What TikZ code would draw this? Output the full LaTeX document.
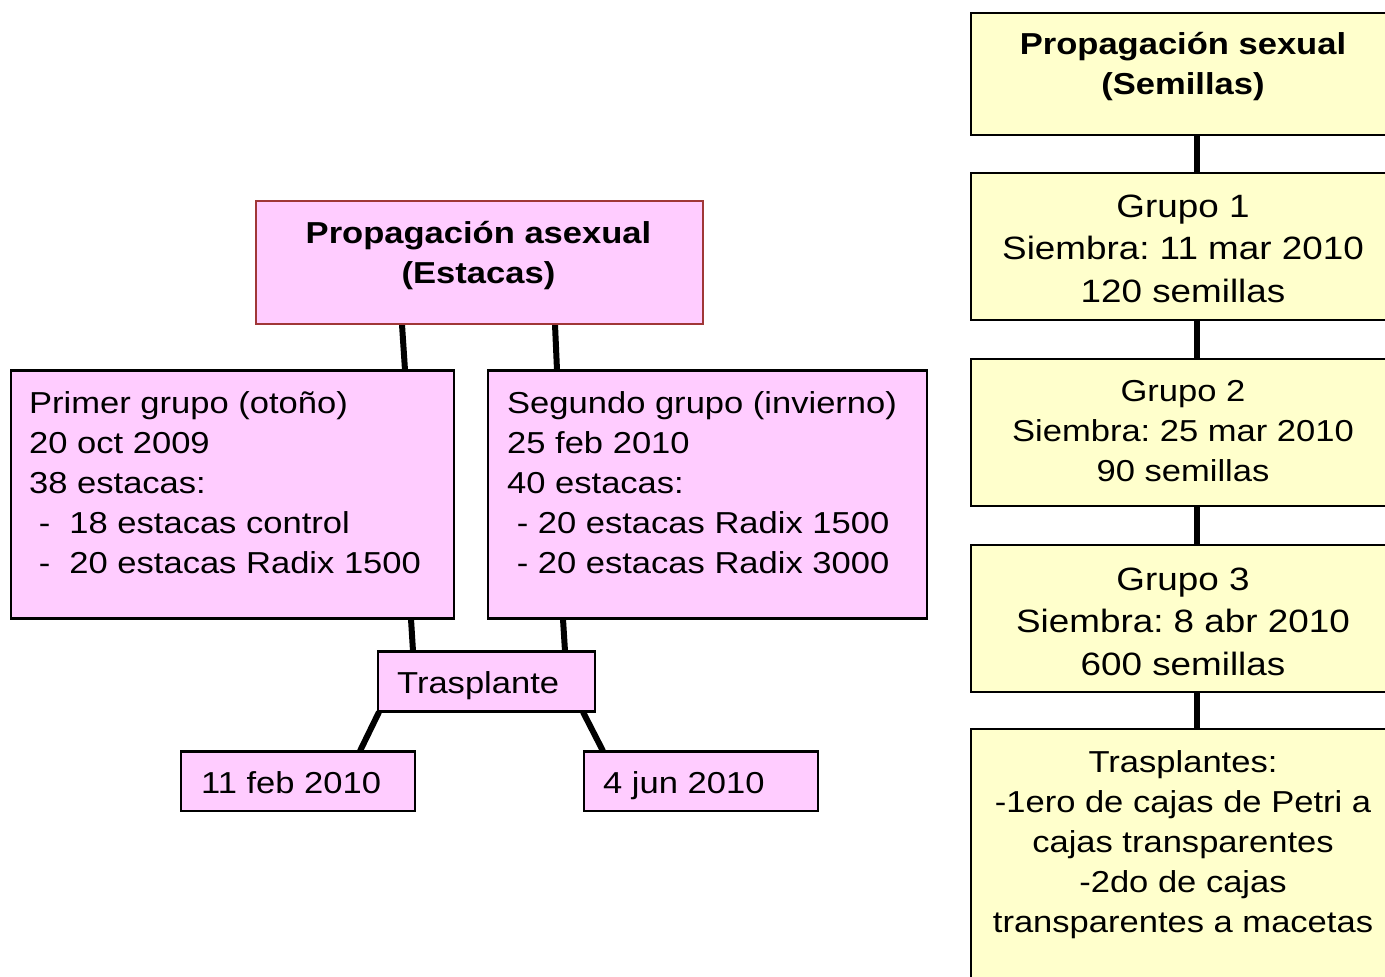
\documentclass[tikz,border=0pt]{standalone}
\usepackage{fontspec}
\setmainfont[FakeStretch=1.14]{Liberation Sans}
\definecolor{pinkfill}{HTML}{FFCCFF}
\definecolor{yellowfill}{HTML}{FFFFCC}
\definecolor{redborder}{RGB}{160,55,55}
\newcommand{\txtA}{\fontsize{30.3}{40}\selectfont}
\newcommand{\txtB}{\fontsize{32.3}{42.5}\selectfont}
\tikzset{
  pinkbox/.style={draw=black, line width=2pt, fill=pinkfill, rectangle, inner sep=0pt, anchor=north west},
  yellowbox/.style={draw=black, line width=2pt, fill=yellowfill, rectangle, inner sep=0pt, anchor=north west},
  conn/.style={draw=black, line width=6pt, line cap=butt},
  txt/.style={inner sep=0pt, anchor=base},
  txtl/.style={inner sep=0pt, anchor=base west}
}
\frenchspacing
\begin{document}
\frenchspacing
\begin{tikzpicture}[x=1pt,y=-1pt]
\useasboundingbox (0,0) rectangle (1385,977);
\clip (0,0) rectangle (1385,977);
\fill[white] (0,0) rectangle (1385,977);

% ---------- left: asexual ----------
\node[pinkbox, draw=redborder, line width=1.6pt, minimum width=447pt, minimum height=123pt] (asex) at (255,200) {};
\node[pinkbox, minimum width=443pt, minimum height=247pt] (p1) at (10,370) {};
\node[pinkbox, minimum width=439pt, minimum height=247pt] (p2) at (487,370) {};
\node[pinkbox, minimum width=217pt, minimum height=59pt] (trasp) at (377,651) {};
\node[pinkbox, minimum width=234pt, minimum height=59pt] (d1) at (180,751) {};
\node[pinkbox, minimum width=234pt, minimum height=59pt] (d2) at (583,751) {};

\draw[conn] ([xshift=147pt]asex.south west) -- ([xshift=395pt]p1.north west);
\draw[conn] ([xshift=300pt]asex.south west) -- ([xshift=70pt]p2.north west);
\draw[conn] ([xshift=401pt]p1.south west) -- ([xshift=36pt]trasp.north west);
\draw[conn] ([xshift=76pt]p2.south west) -- ([xshift=188pt]trasp.north west);
\draw[conn] ([xshift=2pt]trasp.south west) -- ([xshift=180pt]d1.north west);
\draw[conn] ([xshift=206pt]trasp.south west) -- ([xshift=20pt]d2.north west);

% redraw borders of boxes over connector ends
\draw[draw=redborder, line width=1.6pt] (asex.south west) -- (asex.south east);
\draw[line width=2pt] (p1.north west) -- (p1.north east);
\draw[line width=2pt] (p2.north west) -- (p2.north east);
\draw[line width=2pt] (p1.south west) -- (p1.south east);
\draw[line width=2pt] (p2.south west) -- (p2.south east);
\draw[line width=2pt] (trasp.north west) -- (trasp.north east);
\draw[line width=2pt] (trasp.south west) -- (trasp.south east);
\draw[line width=2pt] (d1.north west) -- (d1.north east);
\draw[line width=2pt] (d2.north west) -- (d2.north east);

\node[txt] (asexT) at (478.5,243) {\txtA\bfseries\begin{tabular}[t]{@{}c@{}}Propagación asexual\\(Estacas)\end{tabular}};
\node[txtl] (p1T) at (29,413) {\txtA\begin{tabular}[t]{@{}l@{}}Primer grupo (otoño)\\20 oct 2009\\38 estacas:\\~-~~18 estacas control\\~-~~20 estacas Radix 1500\end{tabular}};
\node[txtl] (p2T) at (507,413) {\txtA\begin{tabular}[t]{@{}l@{}}Segundo grupo (invierno)\\25 feb 2010\\40 estacas:\\~- 20 estacas Radix 1500\\~- 20 estacas Radix 3000\end{tabular}};
\node[txtl] (traspT) at (397,693) {\txtA Trasplante};
\node[txtl] (d1T) at (201,793) {\txtA 11 feb 2010};
\node[txtl] (d2T) at (603,793) {\txtA 4 jun 2010};

% ---------- right: sexual ----------
\node[yellowbox, minimum width=430pt, minimum height=122pt] (sexual) at (970,12) {};
\node[yellowbox, minimum width=430pt, minimum height=147pt] (g1) at (970,172) {};
\node[yellowbox, minimum width=430pt, minimum height=147pt] (g2) at (970,358) {};
\node[yellowbox, minimum width=430pt, minimum height=147pt] (g3) at (970,544) {};
\node[yellowbox, minimum width=430pt, minimum height=290pt] (tras) at (970,728) {};

\draw[conn] ([xshift=227pt]sexual.south west) -- ([xshift=227pt]g1.north west);
\draw[conn] ([xshift=227pt]g1.south west) -- ([xshift=227pt]g2.north west);
\draw[conn] ([xshift=227pt]g2.south west) -- ([xshift=227pt]g3.north west);
\draw[conn] ([xshift=227pt]g3.south west) -- ([xshift=227pt]tras.north west);

\node[txt] (sexualT) at (1183,54) {\txtA\bfseries\begin{tabular}[t]{@{}c@{}}Propagación sexual\\(Semillas)\end{tabular}};
\node[txt] (g1T) at (1183,217) {\txtB\begin{tabular}[t]{@{}c@{}}Grupo 1\\Siembra: 11 mar 2010\\120 semillas\end{tabular}};
\node[txt] (g2T) at (1183,401) {\txtA\begin{tabular}[t]{@{}c@{}}Grupo 2\\Siembra: 25 mar 2010\\90 semillas\end{tabular}};
\node[txt] (g3T) at (1183,590) {\txtB\begin{tabular}[t]{@{}c@{}}Grupo 3\\Siembra: 8 abr 2010\\600 semillas\end{tabular}};
\node[txt] (trasT) at (1183,772) {\txtA\begin{tabular}[t]{@{}c@{}}Trasplantes:\\-1ero de cajas de Petri a\\cajas transparentes\\-2do de cajas\\transparentes a macetas\end{tabular}};
\end{tikzpicture}
\end{document}
